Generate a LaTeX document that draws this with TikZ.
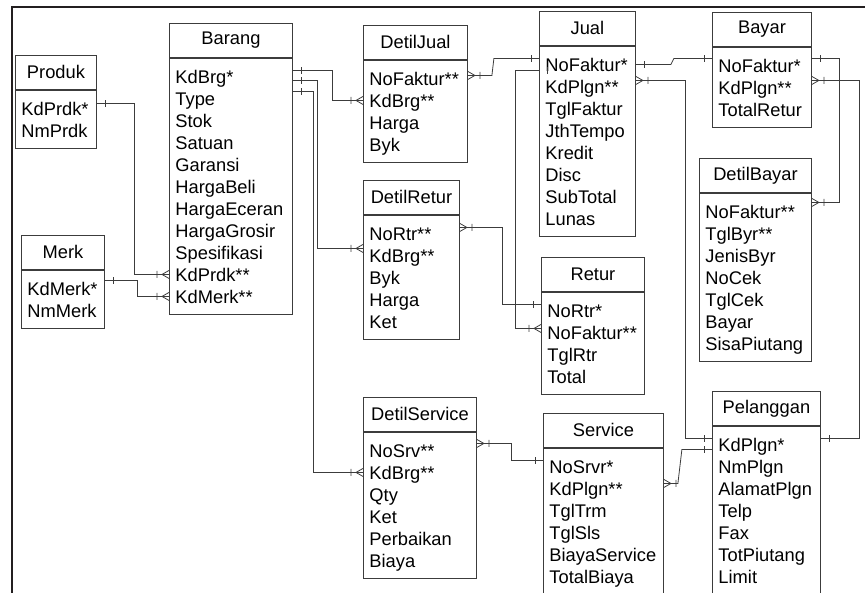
\documentclass[tikz,border=0pt]{standalone}
\usepackage{fontspec}
\setmainfont{Liberation Sans}
\usetikzlibrary{matrix,positioning,decorations.markings}
\definecolor{boxline}{HTML}{3C3C3C}
\definecolor{frameline}{HTML}{231F20}

\begin{document}
\begin{tikzpicture}[x=1pt,y=-1pt,font=\fontsize{18.3}{22}\selectfont,
      tbl/.style={matrix of nodes,draw=boxline,line width=0.9pt,anchor=north west,
      inner xsep=0pt,inner ysep=7pt,row sep=0pt,
      nodes={inner xsep=6pt,inner ysep=0.5pt,text width=#1,align=left,
      text height=17.3pt,text depth=3.7pt}},
      hdr/.style={draw=boxline,line width=0.9pt,inner xsep=6pt,text width=#1,
      align=center,minimum height=34.5pt},
      tick/.style={draw=boxline,line width=0.8pt},
      one/.pic={\draw[tick] (8pt,-3.5pt) -- (8pt,3.5pt);},
      many/.pic={\draw[tick] (7pt,0pt) -- (0pt,4pt) (7pt,0pt) -- (0pt,-4pt)
        (12pt,-3.5pt) -- (12pt,3.5pt);},
      endone/.pic={\draw[tick] (-7pt,-3.5pt) -- (-7pt,3.5pt);},
      endmany/.pic={\draw[tick] (-6pt,0pt) -- (1pt,4pt) (-6pt,0pt) -- (1pt,-4pt)
        (-11pt,-3.5pt) -- (-11pt,3.5pt);},
      rel/.style={draw=boxline,line width=0.8pt,postaction=decorate},
      one-one/.style={rel,decoration={markings,
        mark=at position 0pt with {\pic{one};},
        mark=at position -1pt with {\pic{endone};}}},
      one-many/.style={rel,decoration={markings,
        mark=at position 0pt with {\pic{one};},
        mark=at position -1pt with {\pic{endmany};}}},
      many-one/.style={rel,decoration={markings,
        mark=at position 0pt with {\pic{many};},
        mark=at position -1pt with {\pic{endone};}}},
      one-only/.style={rel,decoration={markings,
        mark=at position 0pt with {\pic{one};}}},
      many-only/.style={rel,decoration={markings,
        mark=at position 0pt with {\pic{many};}}}]

  \useasboundingbox (0,0) rectangle (865,593);
  \draw[frameline,line width=2pt] (12,594) -- (12,7) -- (866,7);

  \matrix[tbl=69] (produk) at (15,90) {KdPrdk*\\ NmPrdk\\};
  \node[hdr=69,above=0pt of produk] (produk-h) {Produk};

  \matrix[tbl=111] (barang) at (169,58) {KdBrg*\\ Type\\ Stok\\ Satuan\\ Garansi\\
    HargaBeli\\ HargaEceran\\ HargaGrosir\\ Spesifikasi\\ KdPrdk**\\ KdMerk**\\};
  \node[hdr=111,above=0pt of barang] (barang-h) {Barang};

  \matrix[tbl=71] (merk) at (21,270) {KdMerk*\\ NmMerk\\};
  \node[hdr=71,above=0pt of merk] (merk-h) {Merk};

  \matrix[tbl=92] (dtljual) at (363,60) {NoFaktur**\\ KdBrg**\\ Harga\\ Byk\\};
  \node[hdr=92,above=0pt of dtljual] (dtljual-h) {DetilJual};

  \matrix[tbl=84] (dtlretur) at (363,215) {NoRtr**\\ KdBrg**\\ Byk\\ Harga\\ Ket\\};
  \node[hdr=84,above=0pt of dtlretur] (dtlretur-h) {DetilRetur};

  \matrix[tbl=101] (dtlservice) at (363,432) {NoSrv**\\ KdBrg**\\ Qty\\ Ket\\
    Perbaikan\\ Biaya\\};
  \node[hdr=101,above=0pt of dtlservice] (dtlservice-h) {DetilService};

  \matrix[tbl=84] (jual) at (539,46) {NoFaktur*\\ KdPlgn**\\ TglFaktur\\ JthTempo\\
    Kredit\\ Disc\\ SubTotal\\ Lunas\\};
  \node[hdr=84,above=0pt of jual] (jual-h) {Jual};

  \matrix[tbl=91] (retur) at (541,292) {NoRtr*\\ NoFaktur**\\ TglRtr\\ Total\\};
  \node[hdr=91,above=0pt of retur] (retur-h) {Retur};

  \matrix[tbl=108] (service) at (543,448) {NoSrvr*\\ KdPlgn**\\ TglTrm\\ TglSls\\
    BiayaService\\ TotalBiaya\\};
  \node[hdr=108,above=0pt of service] (service-h) {Service};

  \matrix[tbl=87] (bayar) at (712,47) {NoFaktur*\\ KdPlgn**\\ TotalRetur\\};
  \node[hdr=87,above=0pt of bayar] (bayar-h) {Bayar};

  \matrix[tbl=100] (dtlbayar) at (699,193) {NoFaktur**\\ TglByr**\\ JenisByr\\
    NoCek\\ TglCek\\ Bayar\\ SisaPiutang\\};
  \node[hdr=100,above=0pt of dtlbayar] (dtlbayar-h) {DetilBayar};

  \matrix[tbl=96] (pelanggan) at (712,426) {KdPlgn*\\ NmPlgn\\ AlamatPlgn\\ Telp\\
    Fax\\ TotPiutang\\ Limit\\};
  \node[hdr=96,above=0pt of pelanggan] (pelanggan-h) {Pelanggan};

  \draw[one-many] ([yshift=5pt]produk-1-1.east) -- ++(37,0) |- (barang-10-1.west);
  \draw[one-many] ([yshift=8pt]merk-1-1.east) -- ++(32,0) |- (barang-11-1.west);
  \draw[one-many] ([yshift=6pt]barang-1-1.east) -- ++(39,0) |- (dtljual-2-1.west);
  \draw[one-many] ([yshift=-4pt]barang-1-1.east) -- ++(24,0) |- ([yshift=7pt]dtlretur-2-1.west);
  \draw[one-many] ([yshift=-15pt]barang-1-1.east) -- ++(20,0) |- (dtlservice-2-1.west);
  \draw[many-one] ([yshift=3pt]dtljual-1-1.east) -- ++(24,0) -- ++(2,-17) -- ([yshift=6pt]jual-1-1.west);
  \draw[one-many] ([yshift=-6pt]jual-1-1.west) -- ++(-24,0) |- ([yshift=4pt]retur-2-1.west);
  \draw[many-one] ([yshift=6pt]dtlretur-1-1.east) -- ++(42,0) |- ([yshift=6pt]retur-1-1.west);
  \draw[one-one] (jual-1-1.east) -- ++(35,0) -- ++(3,-6) -- ([yshift=7pt]bayar-1-1.west);
  \draw[many-one] ([yshift=6pt]jual-2-1.east) -- ++(49,0) |- ([yshift=6pt]pelanggan-1-1.west);
  \draw[many-one] ([yshift=5pt]service-2-1.east) -- ++(14,0) -- ++(4,-34) -- ([yshift=-5pt]pelanggan-1-1.west);
  \draw[many-one] ([yshift=7pt]dtlservice-1-1.east) -- ++(34,0) |- ([yshift=6pt]service-1-1.west);
  \draw[one-only] ([yshift=7pt]bayar-1-1.east) -- ++(27,0) |- ([yshift=9pt]dtlbayar-1-1.east);
  \pic at ([yshift=9pt]dtlbayar-1-1.east) {many};
  \draw[many-only] ([yshift=7pt]bayar-2-1.east) -- ++(47,0) |- ([yshift=6pt]pelanggan-1-1.east);
  \pic at ([yshift=6pt]pelanggan-1-1.east) {one};
\end{tikzpicture}
\end{document}
